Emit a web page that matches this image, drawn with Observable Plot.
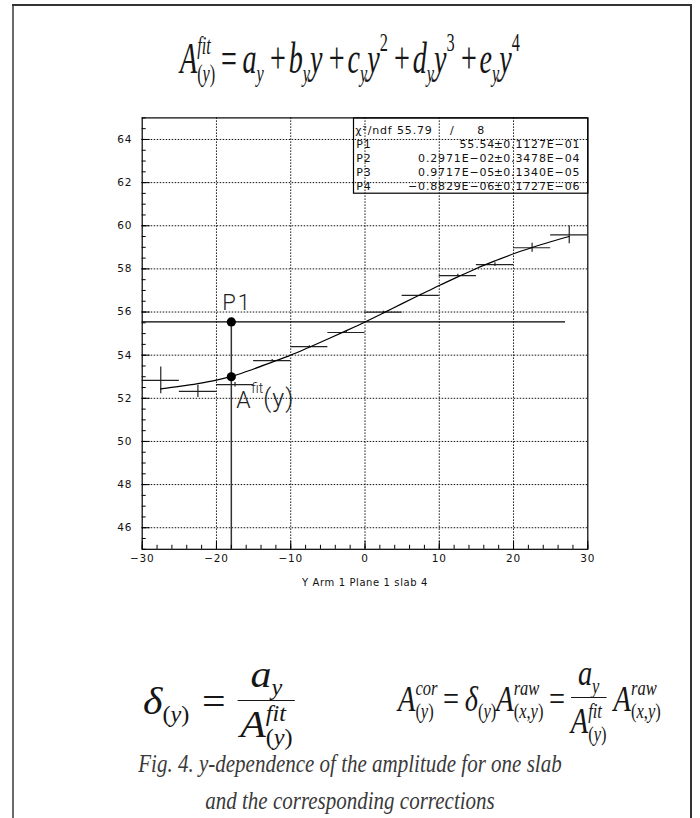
<!DOCTYPE html>
<html>
<head>
<meta charset="utf-8">
<script src="https://cdn.jsdelivr.net/npm/d3@7"></script>
<script src="https://cdn.jsdelivr.net/npm/@observablehq/plot@0.6"></script>
<style>
  html, body { margin: 0; padding: 0; background: #fff; }
  #page { position: relative; width: 700px; height: 818px; overflow: hidden; background: #fff; }
  .edge { position: absolute; z-index: 5; }
  .math { position: absolute; font-family: "Liberation Serif", "Times New Roman", serif; color: #161616; white-space: nowrap; line-height: 1; }
  .math i { font-style: italic; }
  .st { display: inline-block; font-size: 0.58em; line-height: 1.1; text-align: left; vertical-align: -0.36em; }
  .st > span { display: block; }
  .sb { font-size: 0.58em; vertical-align: -0.36em; }
  .sp { font-size: 0.58em; vertical-align: 0.85em; }
  .frac { display: inline-block; text-align: center; vertical-align: -0.62em; }
  .frac > .num { display: block; border-bottom: 1.4px solid #161616; padding: 0 0.2em 0.02em; }
  .frac > .den { display: block; padding-top: 0.04em; }
  .op { margin: 0 0.1em 0 0.22em; }
  .eq { margin: 0 0.2em; }
  #chart { position: absolute; left: 0; top: 100px; }
  #caption { position: absolute; left: 0; width: 700px; top: 745px; text-align: center; font-family: "Liberation Serif", serif; font-style: italic; font-size: 25px; line-height: 37px; color: #3a3a3a; transform: scaleX(0.84); transform-origin: 350px 0; }
</style>
</head>
<body>
<div id="page">
  <!-- polynomial fit used for the amplitude -->
  <div class="math" id="fitFormula" style="left:0; width:700px; top:30px; text-align:center; font-size:44px; transform:scaleX(0.64); transform-origin:350px 0;">
    <i>A</i><span class="st"><span><i>fit</i></span><span>(<i>y</i>)</span></span><span class="eq">=</span><i>a</i><span class="sb"><i>y</i></span><span class="op">+</span><i>b</i><span class="sb"><i>y</i></span><i>y</i><span class="op">+</span><i>c</i><span class="sb"><i>y</i></span><i>y</i><span class="sp">2</span><span class="op">+</span><i>d</i><span class="sb"><i>y</i></span><i>y</i><span class="sp">3</span><span class="op">+</span><i>e</i><span class="sb"><i>y</i></span><i>y</i><span class="sp">4</span>
  </div>

  <div id="chart"></div>

  <!-- correction factor -->
  <div class="math" style="left:143px; top:655px; font-size:38px; transform:scaleX(1.1); transform-origin:0 0;">
    <i>δ</i><span class="sb">(<i>y</i>)</span><span class="eq" style="margin:0 0.3em;">=</span><span class="frac"><span class="num" style="padding:0 0.3em 0.02em;"><i>a</i><span class="sb"><i>y</i></span></span><span class="den"><i>A</i><span class="st"><span><i>fit</i></span><span>(<i>y</i>)</span></span></span></span>
  </div>

  <!-- corrected amplitude -->
  <div class="math" style="left:398px; top:655px; font-size:36px; transform:scaleX(0.79); transform-origin:0 0;">
    <i>A</i><span class="st"><span><i>cor</i></span><span>(<i>y</i>)</span></span><span class="eq">=</span><i>δ</i><span class="sb">(<i>y</i>)</span><i>A</i><span class="st"><span><i>raw</i></span><span>(<i>x</i>,<i>y</i>)</span></span><span class="eq">=</span><span class="frac"><span class="num"><i>a</i><span class="sb"><i>y</i></span></span><span class="den"><i>A</i><span class="st"><span><i>fit</i></span><span>(<i>y</i>)</span></span></span></span>&nbsp;<i>A</i><span class="st"><span><i>raw</i></span><span>(<i>x</i>,<i>y</i>)</span></span>
  </div>

  <div id="caption">Fig. 4. y-dependence of the amplitude for one slab<br>and the corresponding corrections</div>

  <div class="edge" style="left:12px; top:4px; width:2px; height:814px; background:#6a6a6a;"></div>
  <div class="edge" style="left:12px; top:4px; width:680px; height:2px; background:#333;"></div>
  <div class="edge" style="left:690px; top:4px; width:2px; height:814px; background:#333;"></div>
</div>

<script>
// Profile of the amplitude along Y (slab 4, plane 1, arm 1): bin edges, mean, error
const binLow  = [-30, -25, -20, -15, -10, -5, 0, 5, 10, 15, 20, 25];
const binHigh = [-25, -20, -15, -10, -5, 0, 5, 10, 15, 20, 25, 30];
const binMean = [52.83, 52.32, 52.63, 53.75, 54.40, 55.05, 56.00, 56.77, 57.69, 58.20, 58.98, 59.58];
const binErr  = [0.62, 0.28, 0.10, 0.05, 0.04, 0.04, 0.04, 0.05, 0.06, 0.09, 0.21, 0.41];

// Polynomial fit curve sampled along Y
const fitY = [-27.5, -25, -22.5, -20, -17.5, -15, -12.5, -10, -7.5, -5, -2.5, 0, 2.5, 5, 7.5, 10, 12.5, 15, 17.5, 20, 22.5, 25, 27.5];
const fitA = [52.44, 52.55, 52.68, 52.84, 53.06, 53.36, 53.68, 54.00, 54.37, 54.75, 55.14, 55.54, 55.96, 56.39, 56.81, 57.23, 57.63, 58.02, 58.37, 58.70, 58.99, 59.26, 59.50];

// Fit constant P1 and the fit value picked at one Y position
const p1Value = 55.54;
const pickY = -18;
const pickFit = 53.0;

// Fit statistics box
const statNames  = ["P1", "P2", "P3", "P4"];
const statValues = ["55.54", "0.2971E\u221202", "0.9717E\u221205", "\u22120.8829E\u221206"];
const statErrors = ["0.1127E\u221201", "0.3478E\u221204", "0.1340E\u221205", "0.1727E\u221206"];
const chi2 = "55.79";
const ndf = "8";

// Axis ticks
const xTicks = [-30, -20, -10, 0, 10, 20, 30];
const yTicks = [46, 48, 50, 52, 54, 56, 58, 60, 62, 64];
const xGrid = [-20, -10, 0, 10, 20];
const xMinor = d3.range(-30, 30.01, 2);
const yMinor = d3.range(45, 65.01, 0.5);
const axisTitle = "Y Arm 1 Plane 1 slab 4";

const bins = binLow.map((lo, i) => ({lo, hi: binHigh[i], mid: (lo + binHigh[i]) / 2, mean: binMean[i], err: binErr[i]}));
const fit = fitY.map((y, i) => ({y, a: fitA[i]}));
const picks = [{x: pickY, y: p1Value}, {x: pickY, y: pickFit}];

const ink = "#000";
const dotted = {stroke: "#111", strokeOpacity: 1, strokeWidth: 1, strokeDasharray: "1.5,1.5"};
const statFont = {fontSize: 11, fill: "#111"};
const labelFont = {fontFamily: "Roboto, sans-serif", fontWeight: 300, fill: "#222", textAnchor: "start"};

const rowDy = i => 8 + 14 * i;
const statMarks = [
  Plot.text([`\u03c7\u00b2/ndf ${chi2}`], {frameAnchor: "top-left", dx: 213, dy: rowDy(0), textAnchor: "start", ...statFont}),
  Plot.text(["/"], {frameAnchor: "top-left", dx: 310, dy: rowDy(0), textAnchor: "middle", ...statFont}),
  Plot.text([ndf], {frameAnchor: "top-left", dx: 339, dy: rowDy(0), textAnchor: "middle", ...statFont})
];
statNames.forEach((name, i) => {
  statMarks.push(
    Plot.text([name], {frameAnchor: "top-left", dx: 214, dy: rowDy(i + 1), textAnchor: "start", ...statFont}),
    Plot.text([statValues[i]], {frameAnchor: "top-left", dx: 353, dy: rowDy(i + 1), textAnchor: "end", ...statFont}),
    Plot.text(["\u00b1"], {frameAnchor: "top-left", dx: 356.5, dy: rowDy(i + 1), textAnchor: "middle", ...statFont}),
    Plot.text([statErrors[i]], {frameAnchor: "top-left", dx: 361, dy: rowDy(i + 1), textAnchor: "start", ...statFont})
  );
});

const tickLabel = d => d3.format("")(d).replace("-", "\u2212");

const chart = Plot.plot({
  width: 700,
  height: 500,
  marginLeft: 141.7,
  marginRight: 112.7,
  marginTop: 17.4,
  marginBottom: 51.2,
  style: {fontFamily: "'DejaVu Sans', sans-serif", fontSize: "10px", background: "transparent", color: "#111"},
  x: {domain: [-30, 30], axis: null},
  y: {domain: [45, 65], axis: null},
  marks: [
    Plot.gridX(xGrid, dotted),
    Plot.gridY(yTicks, dotted),
    // stats box outline
    Plot.frame({insetLeft: 211.3, insetBottom: 356.1, stroke: ink, strokeWidth: 1.2}),
    ...statMarks,
    // fit constant and the picked position
    Plot.ruleY([p1Value], {x1: -30, x2: 27, stroke: ink, strokeWidth: 1.2}),
    Plot.ruleX([pickY], {y1: 45, y2: p1Value, stroke: "#333", strokeWidth: 1.5}),
    // profile bins with errors
    Plot.ruleY(bins, {y: "mean", x1: "lo", x2: "hi", stroke: "#222", strokeWidth: 1.2}),
    Plot.ruleX(bins, {x: "mid", y1: d => d.mean - d.err, y2: d => d.mean + d.err, stroke: "#222", strokeWidth: 1.2}),
    // polynomial fit
    Plot.line(fit, {x: "y", y: "a", curve: "catmull-rom", stroke: ink, strokeWidth: 1.2}),
    Plot.dot(picks, {x: "x", y: "y", r: 4.6, fill: ink, stroke: null}),
    // annotations
    Plot.text(["P1"], {x: pickY, y: p1Value, dx: -9, dy: -19, fontSize: 22, ...labelFont}),
    Plot.text(["A"], {x: pickY, y: pickFit, dx: 5, dy: 24, fontSize: 23, ...labelFont}),
    Plot.text(["fit"], {x: pickY, y: pickFit, dx: 20, dy: 12, fontSize: 14, ...labelFont}),
    Plot.text(["(y)"], {x: pickY, y: pickFit, dx: 32, dy: 22, fontSize: 25, ...labelFont}),
    // axes: inward ticks and labels
    Plot.frame({stroke: ink, strokeWidth: 1.2}),
    Plot.axisX(xMinor, {tickSize: -4, text: null, stroke: ink}),
    Plot.axisX(xTicks, {tickSize: -8, text: null, stroke: ink}),
    Plot.axisX(xTicks, {tickSize: 0, tickPadding: 5, fontSize: 10.5, fill: "#111", tickFormat: tickLabel, label: null}),
    Plot.axisY(yMinor, {tickSize: -4, text: null, stroke: ink}),
    Plot.axisY(yTicks, {tickSize: 0, tickPadding: 10, fontSize: 10.5, fill: "#111", label: null}),
    Plot.axisY(yTicks, {tickSize: -8, text: null, stroke: ink}),
    Plot.text([axisTitle], {frameAnchor: "bottom", dy: 37, fontSize: 10, fill: "#111"})
  ]
});

// letter spacing of the wide plotter-style lettering, keyed by the mark's font size
const spacingBySize = {"11": "0.85px", "10.5": "0.8px", "10": "0.6px", "22": "2px", "25": "1px"};
d3.select(chart).selectAll("g").each(function() {
  const size = this.getAttribute("font-size");
  if (size && spacingBySize[size]) d3.select(this).selectAll("text").style("letter-spacing", spacingBySize[size]);
});

document.getElementById("chart").appendChild(chart);
</script>
</body>
</html>
